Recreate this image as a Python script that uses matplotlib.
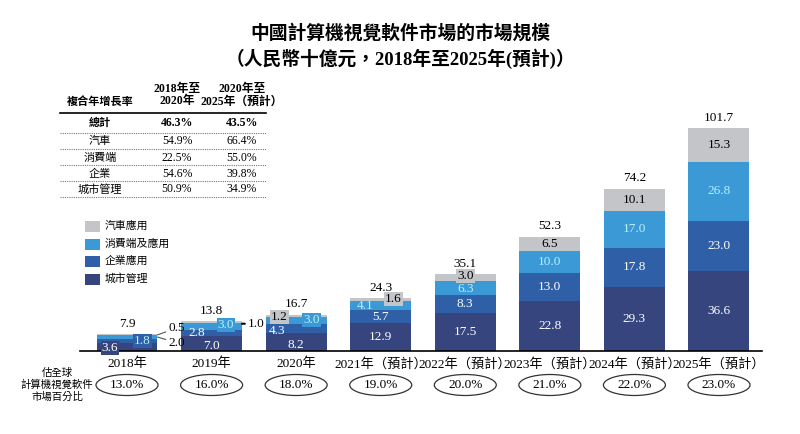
import numpy as np
import matplotlib.pyplot as plt
from matplotlib.patches import Ellipse

plt.rcParams['font.family'] = ['Liberation Serif', 'Noto Sans CJK TC', 'DejaVu Sans']

# data (RMB billion)
years = ['2018年', '2019年', '2020年', '2021年（預計）', '2022年（預計）',
         '2023年（預計）', '2024年（預計）', '2025年（預計）']
city = [3.6, 7.0, 8.2, 12.9, 17.5, 22.8, 29.3, 36.6]
enterprise = [1.8, 2.8, 4.3, 5.7, 8.3, 13.0, 17.8, 23.0]
consumer = [2.0, 3.0, 3.0, 4.1, 6.3, 10.0, 17.0, 26.8]
auto = [0.5, 1.0, 1.2, 1.6, 3.0, 6.5, 10.1, 15.3]
totals = ['7.9', '13.8', '16.7', '24.3', '35.1', '52.3', '74.2', '101.7']
global_share = ['13.0%', '16.0%', '18.0%', '19.0%', '20.0%', '21.0%', '22.0%', '23.0%']

cagr_rows = ['總計', '汽車', '消費端', '企業', '城市管理']
cagr_1820 = ['46.3%', '54.9%', '22.5%', '54.6%', '50.9%']
cagr_2025 = ['43.5%', '66.4%', '55.0%', '39.8%', '34.9%']

series_names = ['汽車應用', '消費端及應用', '企業應用', '城市管理']
c_city, c_ent, c_con, c_auto = '#37457f', '#2f5fa7', '#3b9ad5', '#c4c5c9'
txt_con = '#b8f0ff'

fig = plt.figure(figsize=(8, 4.34), dpi=100)
ax = fig.add_axes([0.1, 0.191, 0.8525, 0.5806])

x = np.arange(len(years))
w = 0.72
b1 = np.array(city)
b2 = b1 + np.array(enterprise)
b3 = b2 + np.array(consumer)
top = b3 + np.array(auto)
ax.bar(x, city, w, color=c_city)
ax.bar(x, enterprise, w, bottom=b1, color=c_ent)
ax.bar(x, consumer, w, bottom=b2, color=c_con)
ax.bar(x, auto, w, bottom=b3, color=c_auto)

ax.set_xlim(-0.556, 7.51)
ax.set_ylim(0, 115)
for s in ['top', 'right', 'left']:
    ax.spines[s].set_visible(False)
ax.spines['bottom'].set_linewidth(1.2)
ax.set_yticks([])
ax.set_xticks([])

fs = 9.5
box = lambda fc: dict(boxstyle='square,pad=0.08', fc=fc, ec='none')

# totals
for i in range(len(x)):
    ax.annotate(totals[i], (x[i], top[i]), xytext=(0, 3), textcoords='offset points',
                ha='center', va='bottom', fontsize=fs)

# big bars: labels centered in segments
for i in range(4, 8):
    ax.text(x[i], city[i] / 2, f'{city[i]:.1f}', ha='center', va='center', color='white', fontsize=fs)
    ax.text(x[i], b1[i] + enterprise[i] / 2, f'{enterprise[i]:.1f}', ha='center', va='center', color='white', fontsize=fs)
    dy = -1 if i == 4 else 0
    ax.annotate(f'{consumer[i]:.1f}', (x[i], b2[i] + consumer[i] / 2), xytext=(0, dy),
                textcoords='offset points', ha='center', va='center', color=txt_con, fontsize=fs)
    ax.annotate(f'{auto[i]:.1f}', (x[i], b3[i] + auto[i] / 2), xytext=(0, -dy),
                textcoords='offset points', ha='center', va='center', color='black', fontsize=fs,
                bbox=box(c_auto))

# 2021
i = 3
ax.text(x[i], city[i] / 2, f'{city[i]:.1f}', ha='center', va='center', color='white', fontsize=fs)
ax.text(x[i], b1[i] + enterprise[i] / 2, f'{enterprise[i]:.1f}', ha='center', va='center', color='white', fontsize=fs)
ax.annotate(f'{consumer[i]:.1f}', (x[i] - 0.18, b2[i] + consumer[i] / 2), xytext=(0, 0),
            textcoords='offset points', ha='center', va='center', color=txt_con, fontsize=fs)
ax.annotate(f'{auto[i]:.1f}', (x[i] + 0.15, b3[i]), xytext=(0, 2), textcoords='offset points',
            ha='center', va='center', color='black', fontsize=fs, bbox=box(c_auto))

# 2020
i = 2
ax.annotate(f'{city[i]:.1f}', (x[i], city[i] / 2), xytext=(0, -2), textcoords='offset points',
            ha='center', va='center', color='white', fontsize=fs)
ax.annotate(f'{enterprise[i]:.1f}', (x[i] - 0.23, b1[i] + enterprise[i] / 2), xytext=(0, -2),
            textcoords='offset points', ha='center', va='center', color='white', fontsize=fs)
ax.annotate(f'{consumer[i]:.1f}', (x[i] + 0.18, b2[i] + consumer[i] / 2), xytext=(0, 0),
            textcoords='offset points', ha='center', va='center', color=txt_con, fontsize=fs, bbox=box(c_con))
ax.annotate(f'{auto[i]:.1f}', (x[i] - 0.2, b3[i]), xytext=(0, 0), textcoords='offset points',
            ha='center', va='center', color='black', fontsize=fs, bbox=box(c_auto))

# 2019
i = 1
ax.annotate(f'{city[i]:.1f}', (x[i], city[i] / 2), xytext=(0, -2), textcoords='offset points',
            ha='center', va='center', color='white', fontsize=fs)
ax.annotate(f'{enterprise[i]:.1f}', (x[i] - 0.18, b1[i] + enterprise[i] / 2), xytext=(0, 0),
            textcoords='offset points', ha='center', va='center', color='white', fontsize=fs)
ax.annotate(f'{consumer[i]:.1f}', (x[i] + 0.17, b2[i] + consumer[i] / 2), xytext=(0, 1),
            textcoords='offset points', ha='center', va='center', color=txt_con, fontsize=fs, bbox=box(c_con))
ax.annotate(f'{auto[i]:.1f}', (x[i] + w / 2, b3[i] - 0.3), xytext=(4, 0), textcoords='offset points',
            ha='left', va='center', color='black', fontsize=fs,
            arrowprops=dict(arrowstyle='-', color='black', lw=1.5, shrinkA=0, shrinkB=0))

# 2018
i = 0
ax.annotate(f'{city[i]:.1f}', (x[i] - 0.2, 0), xytext=(0, 2), textcoords='offset points',
            ha='center', va='center', color='white', fontsize=fs, bbox=box(c_city))
ax.annotate(f'{enterprise[i]:.1f}', (x[i] + 0.18, b1[i] + enterprise[i] / 2), xytext=(0, 0),
            textcoords='offset points', ha='center', va='center', color=txt_con, fontsize=fs, bbox=box(c_ent))
ax.annotate(f'{auto[i]:.1f}', (x[i] + w / 2, b3[i]), xytext=(8, 5), textcoords='offset points',
            ha='left', va='center', color='black', fontsize=fs,
            arrowprops=dict(arrowstyle='-', color='#555555', lw=0.8, shrinkA=0, shrinkB=0))
ax.annotate(f'{consumer[i]:.1f}', (x[i] + w / 2, b2[i] + consumer[i] / 2), xytext=(8, -4), textcoords='offset points',
            ha='left', va='center', color='black', fontsize=fs,
            arrowprops=dict(arrowstyle='-', color='#555555', lw=0.8, shrinkA=0, shrinkB=0))

# category labels and global share ellipses (figure pixel coords)
def fx(px):
    return px / 800

def fy(py):
    return 1 - py / 434

x0_px, step_px = 127, 84.57
for i, yr in enumerate(years):
    cx = x0_px + i * step_px
    fig.text(fx(cx), fy(364), yr, ha='center', va='center', fontsize=9.5)
    fig.patches.append(Ellipse((fx(cx), fy(385)), 62 / 800, 21 / 434, transform=fig.transFigure,
                               fill=False, ec='#333333', lw=0.9))
    fig.text(fx(cx), fy(385), global_share[i], ha='center', va='center', fontsize=9.5)
fig.text(fx(57), fy(385), '估全球\n計算機視覺軟件\n市場百分比', ha='center', va='center',
         fontsize=7.5, linespacing=1.25)

# title
fig.text(0.5, fy(33), '中國計算機視覺軟件市場的市場規模', ha='center', va='center',
         fontsize=13.5, fontweight='bold')
fig.text(0.5, fy(59), '（人民幣十億元，2018年至2025年(預計)）', ha='center', va='center',
         fontsize=13.5, fontweight='bold')

# CAGR table
col_x = [fx(100), fx(177), fx(242)]
fig.text(col_x[0], fy(102), '複合年增長率', ha='center', va='center', fontsize=8, fontweight='bold')
fig.text(col_x[1], fy(95), '2018年至\n2020年', ha='center', va='center', fontsize=8.5,
         fontweight='bold', linespacing=1.1)
fig.text(col_x[2], fy(95), '2020年至\n2025年（預計）', ha='center', va='center', fontsize=8.5,
         fontweight='bold', linespacing=1.1)
fig.add_artist(plt.Line2D([fx(60), fx(266)], [fy(113), fy(113)], transform=fig.transFigure,
                          color='black', lw=1.2))
row_y = [123, 141, 158, 174, 189]
line_y = [133, 149, 165, 181, 197]
for k, name in enumerate(cagr_rows):
    wt = 'bold' if k == 0 else 'normal'
    fig.text(col_x[0], fy(row_y[k]), name, ha='center', va='center', fontsize=8, fontweight=wt)
    fig.text(col_x[1], fy(row_y[k]), cagr_1820[k], ha='center', va='center', fontsize=8.5, fontweight=wt)
    fig.text(col_x[2], fy(row_y[k]), cagr_2025[k], ha='center', va='center', fontsize=8.5, fontweight=wt)
    fig.add_artist(plt.Line2D([fx(60), fx(266)], [fy(line_y[k]), fy(line_y[k])], transform=fig.transFigure,
                              color='#777777', lw=0.8, ls=(0, (1, 1))))

# legend
for k, (name, c) in enumerate(zip(series_names, [c_auto, c_con, c_ent, c_city])):
    yy = 226 + k * 17.5
    fig.patches.append(plt.Rectangle((fx(85), fy(yy + 6)), 15 / 800, 11 / 434, transform=fig.transFigure,
                                     fc=c, ec='none'))
    fig.text(fx(105), fy(yy), name, ha='left', va='center', fontsize=7.8)

fig.savefig('out.png', dpi=100)
